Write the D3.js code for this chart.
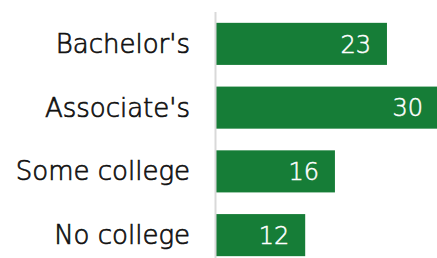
<!DOCTYPE html>
<html lang="en">
<head>
  <meta charset="UTF-8">
  <title>Degree bar chart</title>
  <script src="https://cdn.jsdelivr.net/npm/d3@7"></script>
  <style>
    body {
      margin: 0;
      padding: 0;
      background: #fff;
    }
  </style>
</head>
<body>
<div id="chart"></div>

<script>
  // chart values
  const categories = ["Bachelor's", "Associate's", "Some college", "No college"];
  const values = [23, 30, 16, 12];

  const width = 437;
  const height = 258;
  const axisX = 216;

  const svg = d3.select("#chart").append("svg")
          .attr("width", width)
          .attr("height", height)
          .style("display", "block");

  const x = d3.scaleLinear()
          .domain([0, 30])
          .range([axisX, 439]);

  const y = d3.scaleBand()
          .domain(categories)
          .range([12, 267])
          .paddingInner(0.34)
          .paddingOuter(0.17);

  const rows = categories.map((c, i) => ({ name: c, value: values[i] }));

  // bars
  svg.append("g")
          .selectAll("rect")
          .data(rows)
          .join("rect")
          .attr("x", x(0))
          .attr("y", d => y(d.name))
          .attr("width", d => x(d.value) - x(0))
          .attr("height", y.bandwidth())
          .attr("fill", "#167d37");

  // vertical axis line
  svg.append("line")
          .attr("x1", axisX - 0.5)
          .attr("x2", axisX - 0.5)
          .attr("y1", 12)
          .attr("y2", height)
          .attr("stroke", "#d9d9d9")
          .attr("stroke-width", 2);

  // category labels (thin face, a touch of stroke to thicken it)
  svg.append("g")
          .style("font", "200 26px 'DejaVu Sans', sans-serif")
          .attr("text-anchor", "end")
          .attr("fill", "#111")
          .attr("stroke", "#111")
          .attr("stroke-width", 0.7)
          .selectAll("text")
          .data(rows)
          .join("text")
          .attr("x", 190)
          .attr("y", d => y(d.name) + y.bandwidth() / 2)
          .attr("dy", "0.35em")
          .text(d => d.name);

  // value labels
  svg.append("g")
          .style("font", "200 24px 'DejaVu Sans', sans-serif")
          .attr("text-anchor", "end")
          .attr("fill", "#fff")
          .attr("stroke", "#fff")
          .attr("stroke-width", 0.5)
          .selectAll("text")
          .data(rows)
          .join("text")
          .attr("x", d => x(d.value) - 16)
          .attr("y", d => y(d.name) + y.bandwidth() / 2)
          .attr("dy", "0.36em")
          .text(d => d.value);
</script>
</body>
</html>
